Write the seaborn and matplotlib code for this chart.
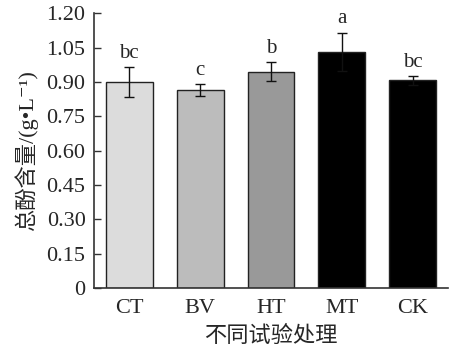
import matplotlib
matplotlib.use("Agg")
import matplotlib.pyplot as plt
import seaborn as sns
import pandas as pd
import numpy as np

categories = ["CT", "BV", "HT", "MT", "CK"]
values = [0.898, 0.865, 0.945, 1.031, 0.907]
errors = [0.066, 0.027, 0.042, 0.084, 0.020]
letters = ["bc", "c", "b", "a", "bc"]
colors = ["#dcdcdc", "#bcbcbc", "#999999", "#000000", "#000000"]
yticks = [0, 0.15, 0.30, 0.45, 0.60, 0.75, 0.90, 1.05, 1.20]
ytick_labels = ["0", "0.15", "0.30", "0.45", "0.60", "0.75", "0.90", "1.05", "1.20"]

sns.set_style("white")
plt.rcParams['font.family'] = ['Liberation Serif', 'Noto Sans CJK SC', 'DejaVu Serif']

df = pd.DataFrame({"cat": categories, "val": values})

fig = plt.figure(figsize=(4.49, 3.56), dpi=100)
ax = fig.add_axes([0.209, 0.191, 0.789, 0.772])

sns.barplot(data=df, x="cat", y="val", hue="cat", palette=colors, legend=False,
            width=0.66, edgecolor="#222222", linewidth=1.0, ax=ax, errorbar=None)

x = np.arange(len(categories))
ax.errorbar(x, values, yerr=errors, fmt="none", ecolor="#111111", elinewidth=1.0,
            capsize=3.5, capthick=1.0)

for xi, v, e, t in zip(x, values, errors, letters):
    ax.annotate(t, (xi, v + e), xytext=(0, 3), textcoords="offset points",
                ha="center", va="bottom", fontsize=15, family="Liberation Serif")

ax.set_ylim(0, 1.20)
ax.set_xlim(-0.5, 4.5)
ax.set_yticks(yticks)
ax.set_yticklabels(ytick_labels)
ax.set_xticks(x)
ax.set_xticklabels(categories)
ax.set_xticks(np.arange(0.5, 5.0, 1.0), minor=True)
ax.tick_params(axis="x", which="major", length=0, labelsize=16, pad=8)
ax.tick_params(axis="x", which="minor", direction="in", length=4, width=1.0, color="#333333")
ax.tick_params(axis="y", direction="in", length=5, width=1.0, color="#333333", labelsize=16, pad=6, left=True)

for s in ["top", "right"]:
    ax.spines[s].set_visible(False)
for s in ["left", "bottom"]:
    ax.spines[s].set_color("#333333")
    ax.spines[s].set_linewidth(1.2)

ax.set_xlabel("不同试验处理", fontsize=16, family=['Noto Sans CJK SC'], labelpad=4)
ax.set_ylabel("总酚含量/(g•L⁻¹)", fontsize=16, labelpad=6,
              family=['Liberation Serif', 'Noto Sans CJK SC', 'DejaVu Serif'])

fig.savefig("out.png", dpi=100)
